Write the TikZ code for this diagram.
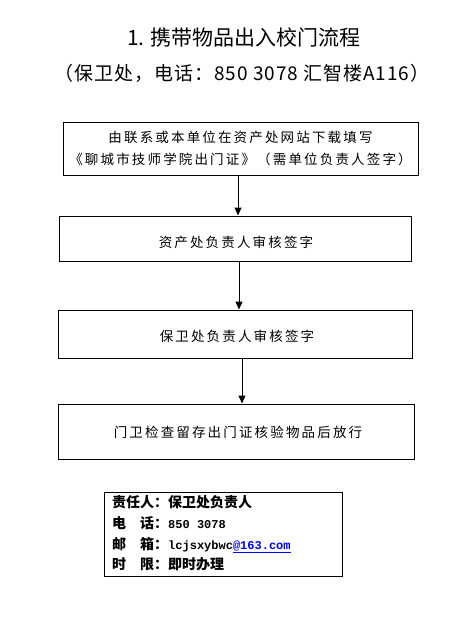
\documentclass[tikz,border=0pt]{standalone}
\usepackage{fontspec}
\usetikzlibrary{arrows.meta}
\newfontfamily\cjk{Noto Sans CJK SC}
\newfontfamily\cjksp[LetterSpace=16]{Noto Sans CJK SC}
\newfontfamily\cjksub[LetterSpace=5]{Noto Sans CJK SC}
\newfontfamily\monofont{Liberation Mono}
\definecolor{linkblue}{RGB}{0,0,255}
\tikzset{
  flowbox/.style={draw=black, line width=1pt, inner sep=0pt, align=center,
    font=\cjksp\fontsize{13.5}{22}\selectfont},
  flowtext/.style={inner sep=0pt, font=\cjksp\fontsize{13.5}{22}\selectfont},
  arr/.style={line width=1pt, -{Triangle[length=8pt,width=7pt]}},
  infobox/.style={draw=black, line width=1pt, inner sep=0pt},
}
\newcommand{\spreadlabel}[2]{\makebox[3em][s]{#1\hfill #2}}
\begin{document}
\begin{tikzpicture}[x=1pt,y=-1pt]
\useasboundingbox[fill=white] (0,0) rectangle (472,623);
\node[font=\cjk\fontsize{21}{24}\selectfont] (title) at (244,37) {1. 携带物品出入校门流程};
\node[font=\cjksub\fontsize{19}{22}\selectfont] (sub) at (242,73) {（保卫处，电话：850 3078 汇智楼A116）};

\node[flowbox, minimum width=355, minimum height=53] (b1) at (240.5,148.5)
  {由联系或本单位在资产处网站下载填写\\《聊城市技师学院出门证》（需单位负责人签字）};
\node[flowbox, minimum width=352, minimum height=45] (b2) at (235,238.5) {};
\node[flowtext] (t2) at (236,242) {资产处负责人审核签字};
\node[flowbox, minimum width=354, minimum height=48] (b3) at (235,334) {};
\node[flowtext] (t3) at (237,336) {保卫处负责人审核签字};
\node[flowbox, minimum width=356, minimum height=55] (b4) at (236,431.5) {};
\node[flowtext] (t4) at (238,432.5) {门卫检查留存出门证核验物品后放行};

\draw[arr] (b1.south -| 238,0) -- (b2.north -| 238,0);
\draw[arr] (b2.south -| 239,0) -- (b3.north -| 239,0);
\draw[arr] (b3.south -| 242,0) -- (b4.north -| 242,0);

\node[infobox, minimum width=238, minimum height=84] (info) at (223,534) {};
\node[anchor=west, align=left, inner sep=0pt, font=\cjk\bfseries\fontsize{14}{20.6}\selectfont] (infotext) at (112,533.5)
  {责任人：保卫处负责人\\
   \spreadlabel{电}{话}：{\monofont\bfseries\fontsize{12}{14}\selectfont 850 3078}\\
   \spreadlabel{邮}{箱}：{\monofont\bfseries\fontsize{12}{14}\selectfont lcjsxybwc\textcolor{linkblue}{\underline{@163.com}}}\\
   \spreadlabel{时}{限}：即时办理};
\end{tikzpicture}
\end{document}
